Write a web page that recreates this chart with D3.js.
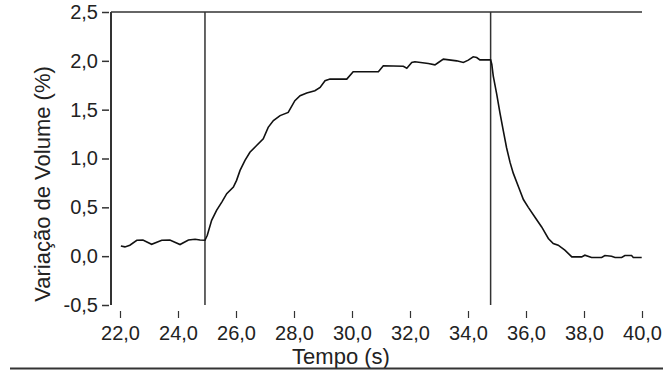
<!DOCTYPE html>
<html>
<head>
<meta charset="utf-8">
<script src="https://cdn.jsdelivr.net/npm/d3@7"></script>
<style>
  body { margin: 0; background: #fff; }
  svg { display: block; }
  text { font-family: "Liberation Sans", Arial, sans-serif; fill: #222; }
</style>
</head>
<body>
<div id="chart"></div>
<script>
// data: time (s) and volume change (%)
var times = [22.03, 22.17, 22.34, 22.58, 22.79, 23.09, 23.44, 23.72, 24.07, 24.36, 24.59, 24.76, 24.93,
    25.01, 25.16, 25.33, 25.51, 25.68, 25.91, 26.02, 26.14, 26.31, 26.48, 26.71, 26.94, 27.11, 27.29,
    27.52, 27.80, 28.03, 28.21, 28.44, 28.72, 28.90, 29.07, 29.24, 29.82, 30.04, 30.91, 31.08, 31.77,
    31.89, 32.06, 32.17, 32.63, 32.86, 32.98, 33.15, 33.61, 33.84, 34.01, 34.18, 34.30, 34.41, 34.78,
    34.82, 34.87, 34.99, 35.10, 35.22, 35.33, 35.45, 35.56, 35.74, 35.91, 36.08, 36.31, 36.54, 36.77,
    36.94, 37.11, 37.34, 37.58, 37.92, 38.03, 38.26, 38.61, 38.72, 38.95, 39.07, 39.30, 39.41, 39.64,
    39.70, 39.99];
var volume = [0.105, 0.095, 0.112, 0.163, 0.166, 0.122, 0.163, 0.166, 0.119, 0.166, 0.173, 0.166, 0.163,
    0.214, 0.367, 0.469, 0.554, 0.640, 0.707, 0.776, 0.878, 0.980, 1.064, 1.133, 1.201, 1.319, 1.388,
    1.439, 1.472, 1.592, 1.643, 1.670, 1.694, 1.728, 1.796, 1.813, 1.813, 1.888, 1.888, 1.949, 1.944,
    1.925, 1.983, 1.990, 1.972, 1.959, 1.983, 2.017, 2.000, 1.983, 2.007, 2.041, 2.034, 2.010, 2.010,
    1.966, 1.847, 1.660, 1.470, 1.280, 1.110, 0.960, 0.850, 0.710, 0.580, 0.500, 0.398, 0.299, 0.181,
    0.130, 0.112, 0.061, -0.007, -0.007, 0.010, -0.013, -0.013, 0.007, 0.000, -0.013, -0.013, 0.007, 0.007,
    -0.013, -0.013];
var cursors = [24.93, 34.78];
var xTicks = [22, 24, 26, 28, 30, 32, 34, 36, 38, 40];
var yTicks = [-0.5, 0, 0.5, 1, 1.5, 2, 2.5];
var xTitle = "Tempo (s)";
var yTitle = "Variação de Volume (%)";

var width = 663
var height = 372

var svg = d3.select("#chart")
    .append("svg")
    .attr("width", width)
    .attr("height", height)

var x = d3.scaleLinear().domain([22, 40]).range([120, 642])
var y = d3.scaleLinear().domain([-0.5, 2.5]).range([305, 12])

var comma = (d) => d3.format(".1f")(d).replace(".", ",").replace("−", "-")
var frameLeft = 111

// top border and left axis line
svg.append("line")
    .attr("x1", frameLeft).attr("x2", x(40))
    .attr("y1", y(2.5)).attr("y2", y(2.5))
    .attr("stroke", "#333").attr("stroke-width", 1.5)
svg.append("line")
    .attr("x1", frameLeft).attr("x2", frameLeft)
    .attr("y1", y(2.5)).attr("y2", y(-0.5))
    .attr("stroke", "#333").attr("stroke-width", 2)

// y ticks
var yAxis = svg.append("g")
    .attr("transform", "translate(" + (frameLeft - 2) + ",0)")
    .call(d3.axisLeft(y).tickValues(yTicks).tickSize(7).tickPadding(4).tickFormat(comma))
yAxis.select(".domain").remove()
yAxis.selectAll("line").attr("stroke", "#333").attr("stroke-width", 1.5)
yAxis.selectAll("text").style("font-size", "20px").attr("fill", "#222")
    .style("font-family", "'Liberation Sans', Arial, sans-serif")

// x ticks, below the plot
var xAxis = svg.append("g")
    .attr("transform", "translate(0,311)")
    .call(d3.axisBottom(x).tickValues(xTicks).tickSize(7).tickPadding(8).tickFormat(comma))
xAxis.select(".domain").remove()
xAxis.selectAll("line").attr("stroke", "#333").attr("stroke-width", 1.2)
xAxis.selectAll("text").style("font-size", "20px").attr("fill", "#222")
    .style("font-family", "'Liberation Sans', Arial, sans-serif")

// cursor lines
svg.append("g")
    .selectAll("line")
    .data(cursors)
    .enter()
    .append("line")
    .attr("x1", (d) => x(d)).attr("x2", (d) => x(d))
    .attr("y1", y(2.5)).attr("y2", y(-0.5))
    .attr("stroke", "#333").attr("stroke-width", 1.5)

// the curve
var points = times.map((t, i) => [t, volume[i]])
svg.append("path")
    .datum(points)
    .attr("fill", "none")
    .attr("stroke", "#111")
    .attr("stroke-width", 1.6)
    .attr("d", d3.line().x((d) => x(d[0])).y((d) => y(d[1])))

// titles
svg.append("text")
    .attr("x", 341).attr("y", 364)
    .attr("text-anchor", "middle")
    .style("font-size", "22px")
    .text(xTitle)
svg.append("text")
    .attr("transform", "translate(50,184) rotate(-90)")
    .attr("text-anchor", "middle")
    .style("font-size", "22px")
    .text(yTitle)

// bottom rule
svg.append("line")
    .attr("x1", 10).attr("x2", width)
    .attr("y1", 368.5).attr("y2", 368.5)
    .attr("stroke", "#333").attr("stroke-width", 2)
</script>
</body>
</html>
